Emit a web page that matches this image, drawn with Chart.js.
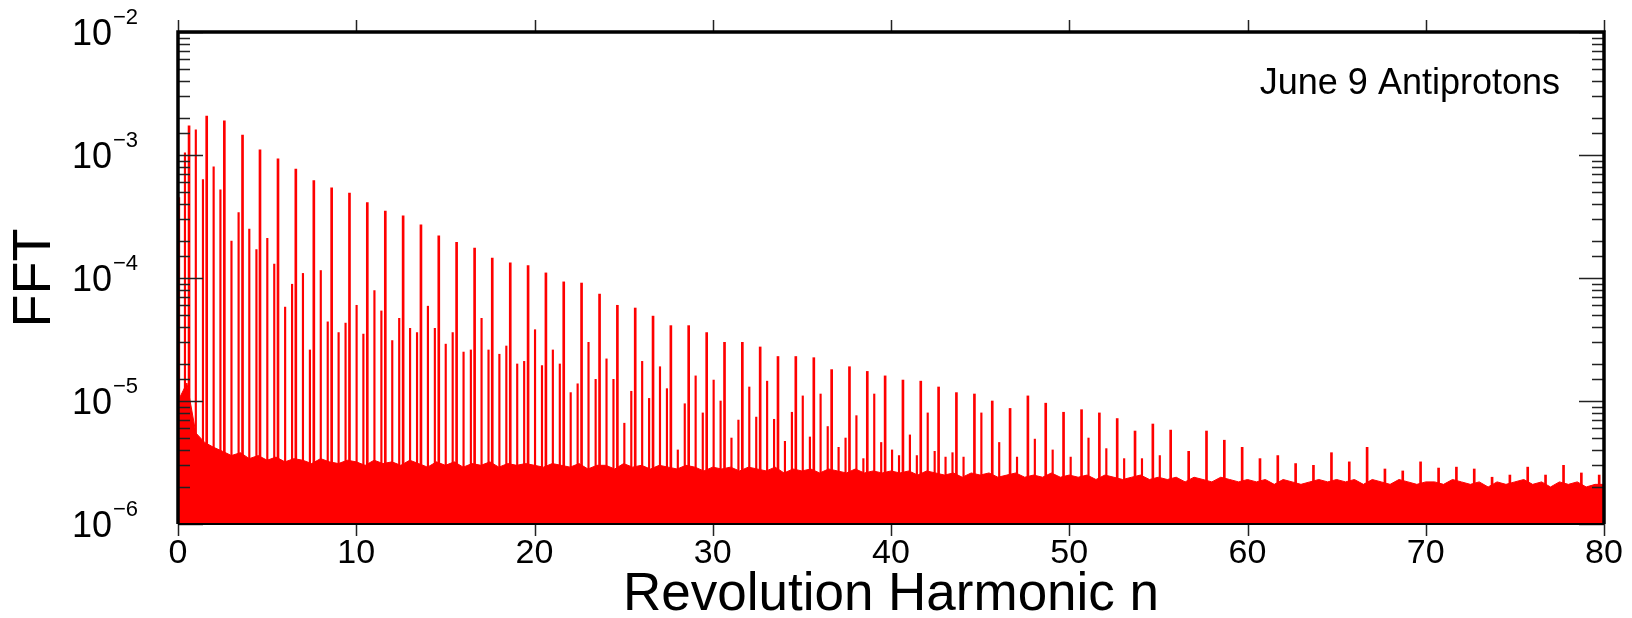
<!DOCTYPE html>
<html>
<head>
<meta charset="utf-8">
<title>June 9 Antiprotons - FFT</title>
<script src="https://cdn.jsdelivr.net/npm/chart.js@4/dist/chart.umd.min.js"></script>
<style>
  html, body { margin: 0; padding: 0; background: #fff; }
  canvas { display: block; }
</style>
</head>
<body>
<canvas id="fftChart" width="1632" height="618"></canvas>
<script>
// main revolution lines (strongest comb)
const mainPeakX = [
  0.62, 1.61, 2.6, 3.62, 4.6, 5.61, 6.61, 7.62, 8.62, 9.62,
  10.62, 11.63, 12.63, 13.63, 14.63, 15.63, 16.64, 17.63, 18.64, 19.64,
  20.64, 21.64, 22.64, 23.65, 24.65, 25.65, 26.65, 27.65, 28.65, 29.66,
  30.66, 31.66, 32.66, 33.66, 34.66, 35.67, 36.67, 37.67, 38.67, 39.67,
  40.67, 41.67, 42.67, 43.67, 44.68, 45.68, 46.68, 47.68, 48.68, 49.68,
  50.69, 51.69, 52.69, 53.69, 54.69, 55.69, 56.7, 57.7, 58.7, 59.7,
  60.7, 61.7, 62.7, 63.7, 64.71, 65.71, 66.71, 67.71, 68.71, 69.71,
  70.72, 71.72, 72.72, 73.72, 74.72, 75.72, 76.72, 77.73, 78.73, 79.73
];
const mainPeakY = [
  1.73e-3, 2.07e-3, 1.9e-3, 1.45e-3, 1.1e-3, 9.3e-4, 7.7e-4, 6.2e-4, 5.4e-4, 4.9e-4,
  4.1e-4, 3.5e-4, 3.2e-4, 2.7e-4, 2.2e-4, 1.95e-4, 1.75e-4, 1.45e-4, 1.33e-4, 1.26e-4,
  1.1e-4, 9.3e-5, 9.1e-5, 7.4e-5, 6.0e-5, 5.7e-5, 4.9e-5, 4.1e-5, 4.1e-5, 3.6e-5,
  3.0e-5, 3.0e-5, 2.75e-5, 2.3e-5, 2.3e-5, 2.25e-5, 1.8e-5, 1.9e-5, 1.74e-5, 1.6e-5,
  1.48e-5, 1.45e-5, 1.3e-5, 1.17e-5, 1.14e-5, 1.0e-5, 8.7e-6, 1.1e-5, 9.6e-6, 8.1e-6,
  8.5e-6, 8.0e-6, 7.2e-6, 5.7e-6, 6.5e-6, 5.8e-6, 3.9e-6, 5.7e-6, 4.8e-6, 4.2e-6,
  3.4e-6, 3.6e-6, 3.1e-6, 3.0e-6, 3.8e-6, 3.2e-6, 4.2e-6, 2.8e-6, 2.7e-6, 3.2e-6,
  2.85e-6, 2.9e-6, 2.8e-6, 2.4e-6, 2.5e-6, 2.9e-6, 2.5e-6, 3.0e-6, 2.6e-6, 2.5e-6
];

// sideband just below each main line
const lowerSideX = [
  0.39, 1.4, 2.38, 3.4, 4.4, 5.4, 6.4, 7.4, 8.4, 9.4,
  10.4, 11.41, 12.41, 13.41, 14.41, 15.41, 16.43, 17.42, 18.42, 19.42,
  20.42, 21.42, 22.42, 23.43, 24.43, 25.43, 26.43, 27.43, 28.43, 29.44,
  30.44, 31.44, 32.44, 33.44, 34.44, 35.45, 36.45, 37.45, 38.45, 39.45,
  40.45, 41.45, 42.45, 43.45
];
const lowerSideY = [
  1.04e-3, 6.3e-4, 5.2e-4, 3.4e-4, 1.7e-4, 1.3e-4, 8.9e-5, 2.6e-5, 4.4e-5, 4.3e-5,
  3.5e-5, 5.4e-5, 4.7e-5, 3.6e-5, 3.9e-5, 3.6e-5, 2.6e-5, 2.6e-5, 2.8e-5, 2.1e-5,
  1.94e-5, 2.0e-5, 1.38e-5, 1.5e-5, 1.5e-5, 1.2e-5, 1.05e-5, 1.26e-5, 9.5e-6, 8.0e-6,
  1.0e-5, 7.0e-6, 7.4e-6, 7.1e-6, 8.1e-6, 5.1e-6, 6.2e-6, 5.0e-6, 3.4e-6, 4.6e-6,
  3.6e-6, 3.6e-6, 3.9e-6, 3.8e-6
];

// lines close to the integer harmonics (first one is the DC spike)
const integerLineX = [
  0.06, 1, 2, 3, 4, 5.01, 6.01, 7.01, 8.01, 9.01,
  10.02, 11.02, 12.02, 13.02, 14.02, 15.02, 16.02, 17.03, 18.03, 19.03,
  20.03, 21.03, 22.03, 23.03, 24.04, 25.04, 26.04, 27.04, 28.04, 29.04,
  30.05, 31.05, 32.05, 33.05, 34.05, 35.05, 36.05, 37.06, 38.06, 39.06,
  40.06, 41.06, 42.06, 43.06, 44.07, 45.07, 46.07, 47.07, 48.07, 49.07,
  50.08, 51.08, 52.08, 53.08, 54.08, 55.08
];
const integerLineY = [
  4.5e-4, 1.6e-3, 8.0e-4, 2.0e-4, 2.5e-4, 2.1e-4, 5.8e-5, 1.09e-4, 1.15e-4, 3.6e-5,
  6.0e-5, 7.9e-5, 3.1e-5, 3.9e-5, 5.9e-5, 2.9e-5, 2.5e-5, 4.7e-5, 2.4e-5, 2.0e-5,
  3.8e-5, 2.6e-5, 1.17e-5, 3.0e-5, 2.2e-5, 6.6e-6, 2.1e-5, 1.9e-5, 4.0e-6, 1.6e-5,
  1.48e-5, 5.0e-6, 1.3e-5, 1.45e-5, 4.7e-6, 1.1e-5, 1.14e-5, 4.2e-6, 7.6e-6, 1.14e-5,
  4.0e-6, 5.3e-6, 8.0e-6, 3.5e-6, 3.5e-6, 8.0e-6, 4.6e-6, 3.5e-6, 4.9e-6, 4.0e-6,
  3.5e-6, 5.0e-6, 4.1e-6, 3.4e-6, 3.4e-6, 3.6e-6
];

// top of the noise band, one reading every 0.5 in n, in units of 1e-6
const NOISE_STEP = 0.5;
const noiseTop = [
  10, 14, 5.5, 4.6, 4.2, 3.9, 3.6, 3.8, 3.4, 3.6, 3.3, 3.5, 3.2, 3.4, 3.3, 3.1, 3.4, 3.2, 3.1, 3.3, 3.2,
  3.0, 3.3, 3.1, 3.2, 3.0, 3.3, 3.1, 2.9, 3.2, 3.0, 3.2, 2.9, 3.1, 3.0, 3.2, 2.9, 3.1, 3.0, 3.1, 3.0,
  2.9, 3.1, 3.0, 2.9, 3.1, 2.8, 3.0, 3.0, 2.8, 3.1, 2.9, 3.0, 2.8, 3.0, 2.9, 2.8, 3.0, 2.9, 2.7, 2.9,
  2.8, 2.9, 2.7, 2.9, 2.8, 2.7, 2.9, 2.6, 2.8, 2.7, 2.8, 2.6, 2.8, 2.7, 2.6, 2.8, 2.6, 2.7, 2.6, 2.7,
  2.6, 2.7, 2.5, 2.7, 2.6, 2.5, 2.6, 2.4, 2.6, 2.5, 2.6, 2.4, 2.5, 2.6, 2.4, 2.5, 2.4, 2.6, 2.4, 2.5,
  2.4, 2.5, 2.3, 2.5, 2.4, 2.3, 2.4, 2.5, 2.3, 2.4, 2.3, 2.4, 2.2, 2.4, 2.3, 2.2, 2.4, 2.3, 2.2, 2.3,
  2.2, 2.3, 2.1, 2.3, 2.2, 2.1, 2.2, 2.3, 2.2, 2.3, 2.2, 2.3, 2.1, 2.3, 2.2, 2.1, 2.3, 2.2, 2.1, 2.2,
  2.2, 2.1, 2.3, 2.2, 2.1, 2.2, 2.0, 2.2, 2.1, 2.2, 2.3, 2.1, 2.2, 2.0, 2.2, 2.1, 2.2, 2.0, 2.1, 2.1
];

const xTicks = [0, 10, 20, 30, 40, 50, 60, 70, 80];
const yMin = 1e-6;
const yMax = 1e-2;
const annotation = "June 9 Antiprotons";

const RED = "#ff0000";
const FONT = "'Liberation Sans', Arial, Helvetica, sans-serif";

function toPoints(xs, ys) {
  return xs.map((x, i) => ({ x: x, y: ys[i] }));
}

// frame, inward/outward ticks, 10^n labels and the run label (ROOT style)
const framePlugin = {
  id: "rootFrame",
  afterDraw(chart) {
    const { ctx, chartArea: a, scales } = chart;
    const x = scales.x, y = scales.y;
    ctx.save();

    ctx.strokeStyle = "#222";
    ctx.lineWidth = 1.5;
    y.ticks.forEach(t => {
      const lg = Math.log10(t.value);
      const major = Math.abs(lg - Math.round(lg)) < 1e-6;
      const py = Math.round(y.getPixelForValue(t.value)) + 0.5;
      const len = major ? 25 : 12;
      ctx.beginPath();
      ctx.moveTo(a.left, py); ctx.lineTo(a.left + len, py);
      ctx.moveTo(a.right, py); ctx.lineTo(a.right - len, py);
      ctx.stroke();
    });
    xTicks.forEach(v => {
      const px = Math.round(x.getPixelForValue(v)) + 0.5;
      ctx.beginPath();
      ctx.moveTo(px, a.top); ctx.lineTo(px, a.top - 12);
      ctx.moveTo(px, a.bottom); ctx.lineTo(px, a.bottom + 12);
      ctx.stroke();
    });

    ctx.strokeStyle = "#000";
    ctx.lineWidth = 3.5;
    ctx.beginPath();
    ctx.moveTo(a.left, a.bottom);
    ctx.lineTo(a.left, a.top);
    ctx.lineTo(a.right, a.top);
    ctx.lineTo(a.right, a.bottom);
    ctx.stroke();
    ctx.lineWidth = 2;
    ctx.beginPath();
    ctx.moveTo(a.left, a.bottom);
    ctx.lineTo(a.right, a.bottom);
    ctx.stroke();

    // decade labels written as 10 with a raised exponent
    ctx.fillStyle = "#000";
    y.ticks.forEach(t => {
      const lg = Math.log10(t.value);
      if (Math.abs(lg - Math.round(lg)) > 1e-6) return;
      const py = y.getPixelForValue(t.value);
      ctx.font = "36px " + FONT;
      ctx.textAlign = "right";
      ctx.textBaseline = "alphabetic";
      ctx.fillText("10", 112, py + 13);
      ctx.font = "22px " + FONT;
      ctx.textAlign = "left";
      ctx.fillText("\u2212" + Math.abs(Math.round(lg)), 113, py - 8);
    });

    ctx.font = "36px " + FONT;
    ctx.textAlign = "right";
    ctx.textBaseline = "alphabetic";
    ctx.fillText(annotation, 1560, 94);

    ctx.restore();
  }
};

document.addEventListener("DOMContentLoaded", () => {
  const ctx = document.getElementById("fftChart").getContext("2d");
  new Chart(ctx, {
    type: "bar",
    data: {
      datasets: [
        {
          label: "main lines",
          data: toPoints(mainPeakX, mainPeakY),
          backgroundColor: RED,
          barThickness: 2,
          base: yMin,
          grouped: false
        },
        {
          label: "lower sidebands",
          data: toPoints(lowerSideX, lowerSideY),
          backgroundColor: RED,
          barThickness: 1.5,
          base: yMin,
          grouped: false
        },
        {
          label: "integer harmonics",
          data: toPoints(integerLineX, integerLineY),
          backgroundColor: RED,
          barThickness: 1.5,
          base: yMin,
          grouped: false
        },
        {
          type: "line",
          label: "noise",
          data: noiseTop.map((v, i) => ({ x: i * NOISE_STEP, y: v * 1e-6 })),
          borderColor: RED,
          backgroundColor: RED,
          borderWidth: 1,
          pointRadius: 0,
          tension: 0,
          fill: "start"
        }
      ]
    },
    options: {
      responsive: false,
      animation: false,
      layout: { padding: { left: 0, right: 28, top: 32, bottom: 0 } },
      plugins: {
        legend: { display: false },
        tooltip: { enabled: false }
      },
      scales: {
        x: {
          type: "linear",
          min: 0,
          max: 80,
          offset: false,
          grid: { display: false, drawTicks: false },
          border: { display: false },
          afterBuildTicks: scale => { scale.ticks = xTicks.map(v => ({ value: v })); },
          ticks: {
            color: "#000",
            padding: 9,
            maxRotation: 0,
            font: { family: FONT, size: 34 }
          },
          title: {
            display: true,
            text: "Revolution Harmonic n",
            color: "#000",
            font: { family: FONT, size: 53, lineHeight: 0.8 },
            padding: { top: 0, bottom: 1 }
          },
          afterFit: scale => { scale.height = 94; }
        },
        y: {
          type: "logarithmic",
          min: yMin,
          max: yMax,
          grid: { display: false, drawTicks: false },
          border: { display: false },
          ticks: { display: false },
          title: {
            display: true,
            text: "FFT",
            color: "#000",
            font: { family: FONT, size: 54 },
            padding: { top: 3, bottom: 0 }
          },
          afterFit: scale => { scale.width = 178; }
        }
      }
    },
    plugins: [framePlugin]
  });
});
</script>
</body>
</html>
